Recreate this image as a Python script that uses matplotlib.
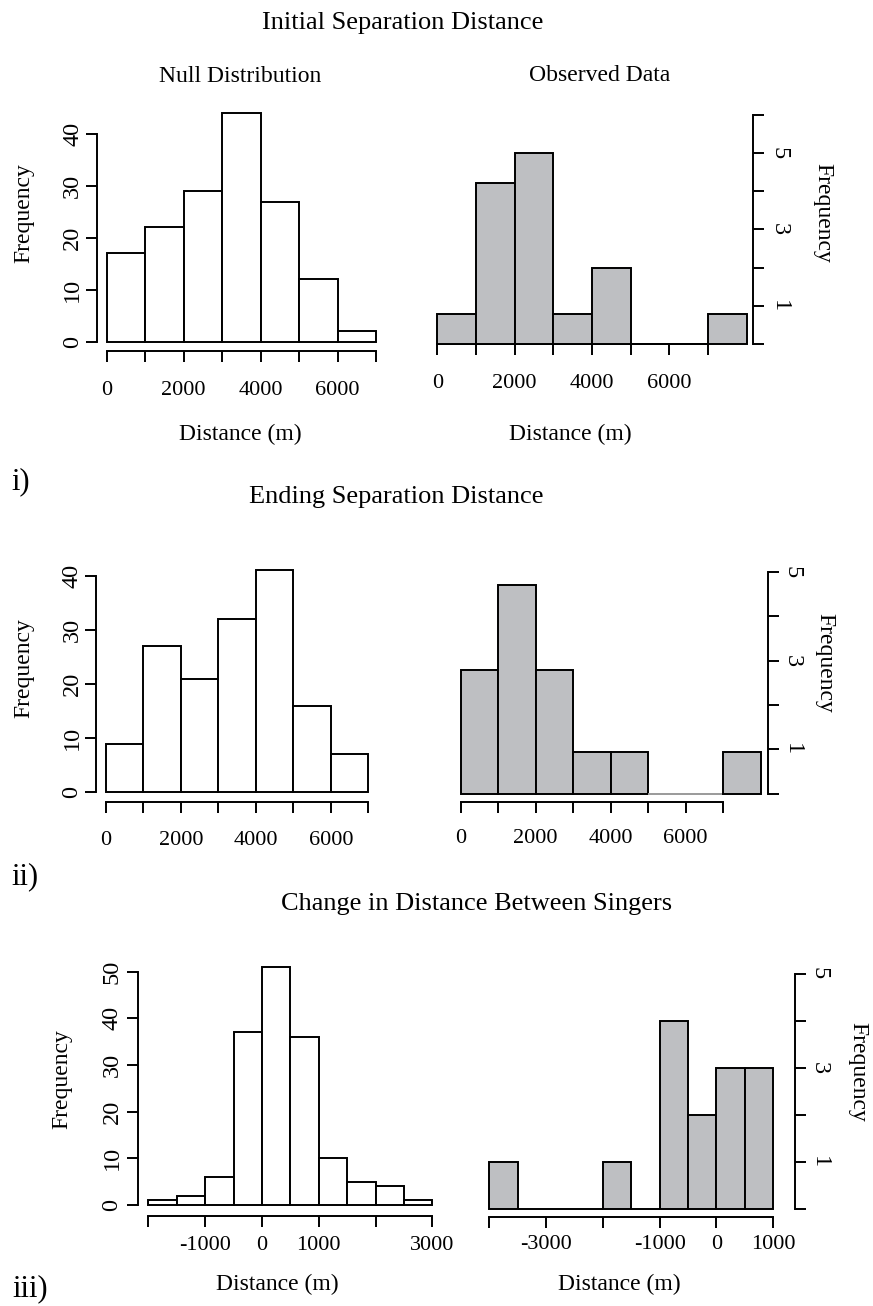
import matplotlib
matplotlib.use("Agg")
import matplotlib.pyplot as plt
import numpy as np

plt.rcParams['font.family'] = ['Liberation Serif', 'DejaVu Serif']

W, H, DPI = 873, 1306, 100
PT = 72.0 / DPI  # points per pixel

# ---------------- data ----------------
init_null_edges = [0, 1000, 2000, 3000, 4000, 5000, 6000, 7000]
init_null_counts = [17, 22, 29, 44, 27, 12, 2]
init_obs_edges = [0, 1000, 2000, 3000, 4000, 5000, 6000, 7000, 8000]
init_obs_counts = [0.8, 4.2, 5, 0.8, 2, 0, 0, 0.8]

end_null_edges = [0, 1000, 2000, 3000, 4000, 5000, 6000, 7000]
end_null_counts = [9, 27, 21, 32, 41, 16, 7]
end_obs_edges = [0, 1000, 2000, 3000, 4000, 5000, 6000, 7000, 8000]
end_obs_counts = [2.8, 4.7, 2.8, 0.93, 0.93, 0, 0, 0.93]

chg_null_edges = [-2000, -1500, -1000, -500, 0, 500, 1000, 1500, 2000, 2500, 3000]
chg_null_counts = [1, 2, 6, 37, 51, 36, 10, 5, 4, 1]
chg_obs_edges = [-4000, -3500, -3000, -2500, -2000, -1500, -1000, -500, 0, 500, 1000]
chg_obs_counts = [1, 0, 0, 0, 1, 0, 4, 2, 3, 3]

dist_ticks_a = [0, 1000, 2000, 3000, 4000, 5000, 6000, 7000]
dist_labels_a = ['0', '', '2000', '', '4000', '', '6000', '']
chg_null_ticks = [-2000, -1000, 0, 1000, 2000, 3000]
chg_null_labels = ['', '-1000', '0', '1000', '', '3000']
chg_obs_ticks = [-4000, -3000, -2000, -1000, 0, 1000]
chg_obs_labels = ['', '-3000', '', '-1000', '0', '1000']
null_yticks_40 = [0, 10, 20, 30, 40]
null_yticks_50 = [0, 10, 20, 30, 40, 50]
obs_yticks_6 = [0, 1, 2, 3, 4, 5, 6]
obs_ylabels_6 = ['', '1', '', '3', '', '5', '']
obs_yticks_5 = [0, 1, 2, 3, 4, 5]
obs_ylabels_5 = ['', '1', '', '3', '', '5']

GRAY = '#bebfc2'
LW = 1.4

fig = plt.figure(figsize=(W / DPI, H / DPI), dpi=DPI)
fig.patch.set_facecolor('white')


def make_ax(dx0, px0, dx1, px1, dy0, py0, dy1, py1):
    left = px0 / W
    width = (px1 - px0) / W
    bottom = 1 - py0 / H
    height = (py0 - py1) / H
    ax = fig.add_axes([left, bottom, width, height])
    ax.set_xlim(dx0, dx1)
    ax.set_ylim(dy0, dy1)
    ax.patch.set_alpha(0)
    return ax


def draw_hist(ax, edges, counts, face, zero_edge='black'):
    edges = np.asarray(edges, float)
    widths = np.diff(edges)
    ecs = ['black' if c > 0 else zero_edge for c in counts]
    ax.bar(edges[:-1], counts, width=widths, align='edge', color=face,
           edgecolor=ecs, linewidth=LW, clip_on=False, zorder=3)


def style_axes(ax, side, yout_px, ybounds, yticks, ylabels, ypad_px,
               xout_px, xbounds, xticks, xlabels, xpad_px, yfs=17.5, xfs=16):
    for s in ['top', 'left', 'right', 'bottom']:
        ax.spines[s].set_visible(False)
    ys = ax.spines[side]
    ys.set_visible(True)
    ys.set_position(('outward', yout_px * PT))
    ys.set_bounds(*ybounds)
    ys.set_linewidth(LW)
    xs = ax.spines['bottom']
    xs.set_visible(True)
    xs.set_position(('outward', xout_px * PT))
    xs.set_bounds(*xbounds)
    xs.set_linewidth(LW)
    if side == 'right':
        ax.yaxis.tick_right()
        rot = -90
    else:
        ax.yaxis.tick_left()
        rot = 90
    ax.set_yticks(yticks)
    ax.set_yticklabels(ylabels, rotation=rot, va='center', fontsize=yfs)
    ax.set_xticks(xticks)
    ax.set_xticklabels(xlabels, fontsize=xfs)
    ax.tick_params(axis='y', length=10.7 * PT, width=LW, pad=ypad_px * PT,
                   direction='out')
    ax.tick_params(axis='x', length=10.7 * PT, width=LW, pad=xpad_px * PT,
                   direction='out')


def ftext(x, y, s, size, ha='center', va='baseline', rot=0):
    fig.text(x / W, 1 - y / H, s, fontsize=size, ha=ha, va=va, rotation=rot,
             rotation_mode='anchor' if rot == 0 else 'default')


# ---------------- row 1 ----------------
axA = make_ax(0, 106.7, 7000, 376.0, 0, 341.7, 45, 341.7 - 45 * 5.1925)
draw_hist(axA, init_null_edges, init_null_counts, 'white')
style_axes(axA, 'left', 9.7, (0, 40), null_yticks_40, [str(v) for v in null_yticks_40], 3,
           9.3, (0, 7000), dist_ticks_a, dist_labels_a, 19)

axB = make_ax(0, 437.3, 8000, 746.7, 0, 344.3, 6.2, 344.3 - 6.2 * 38.3)
draw_hist(axB, init_obs_edges, init_obs_counts, GRAY)
style_axes(axB, 'right', 6.6, (0, 6), obs_yticks_6, obs_ylabels_6, 4.5,
           0, (0, 7000), dist_ticks_a, dist_labels_a, 19)

# ---------------- row 2 ----------------
axC = make_ax(0, 106.0, 7000, 368.3, 0, 792.3, 45, 792.3 - 45 * 5.415)
draw_hist(axC, end_null_edges, end_null_counts, 'white')
style_axes(axC, 'left', 10.3, (0, 40), null_yticks_40, [str(v) for v in null_yticks_40], 2.5,
           9.4, (0, 7000), dist_ticks_a, dist_labels_a, 19)

axD = make_ax(0, 460.7, 8000, 760.7, 0, 793.6, 5.2, 793.6 - 5.2 * 44.32)
draw_hist(axD, end_obs_edges, end_obs_counts, GRAY, zero_edge='#9a9a9a')
style_axes(axD, 'right', 7.6, (0, 5), obs_yticks_5, obs_ylabels_5, 3,
           8.1, (0, 7000), dist_ticks_a, dist_labels_a, 17)

# ---------------- row 3 ----------------
axE = make_ax(-2000, 148.3, 3000, 432.3, 0, 1205.0, 55, 1205.0 - 55 * 4.666)
draw_hist(axE, chg_null_edges, chg_null_counts, 'white')
style_axes(axE, 'left', 10, (0, 50), null_yticks_50, [str(v) for v in null_yticks_50], 5,
           11, (-2000, 3000), chg_null_ticks, chg_null_labels, 9)

axF = make_ax(-4000, 489.5, 1000, 773.0, 0, 1208.8, 5.2, 1208.8 - 5.2 * 47.06)
draw_hist(axF, chg_obs_edges, chg_obs_counts, GRAY)
style_axes(axF, 'right', 22, (0, 5), obs_yticks_5, obs_ylabels_5, 3,
           7.9, (-4000, 1000), chg_obs_ticks, chg_obs_labels, 7.5)

# ---------------- text ----------------
ftext(403, 29, 'Initial Separation Distance', 19)
ftext(240, 82, 'Null Distribution', 17)
ftext(600, 81, 'Observed Data', 17)
ftext(240, 440, 'Distance (m)', 17)
ftext(570, 440, 'Distance (m)', 17)
ftext(11, 489, 'i)', 22, ha='left')

ftext(396, 503, 'Ending Separation Distance', 19)
ftext(11, 884, 'ii)', 22, ha='left')

ftext(477, 910, 'Change in Distance Between Singers', 19)
ftext(277, 1290, 'Distance (m)', 17)
ftext(619, 1290, 'Distance (m)', 17)
ftext(12, 1296, 'iii)', 22, ha='left')

ftext(24, 213, 'Frequency', 17, va='center', rot=90)
ftext(823, 213, 'Frequency', 17, va='center', rot=-90)
ftext(24, 668, 'Frequency', 17, va='center', rot=90)
ftext(825, 663, 'Frequency', 17, va='center', rot=-90)
ftext(62, 1079, 'Frequency', 17, va='center', rot=90)
ftext(858, 1072, 'Frequency', 17, va='center', rot=-90)

fig.savefig('out.png', dpi=DPI, facecolor='white')
